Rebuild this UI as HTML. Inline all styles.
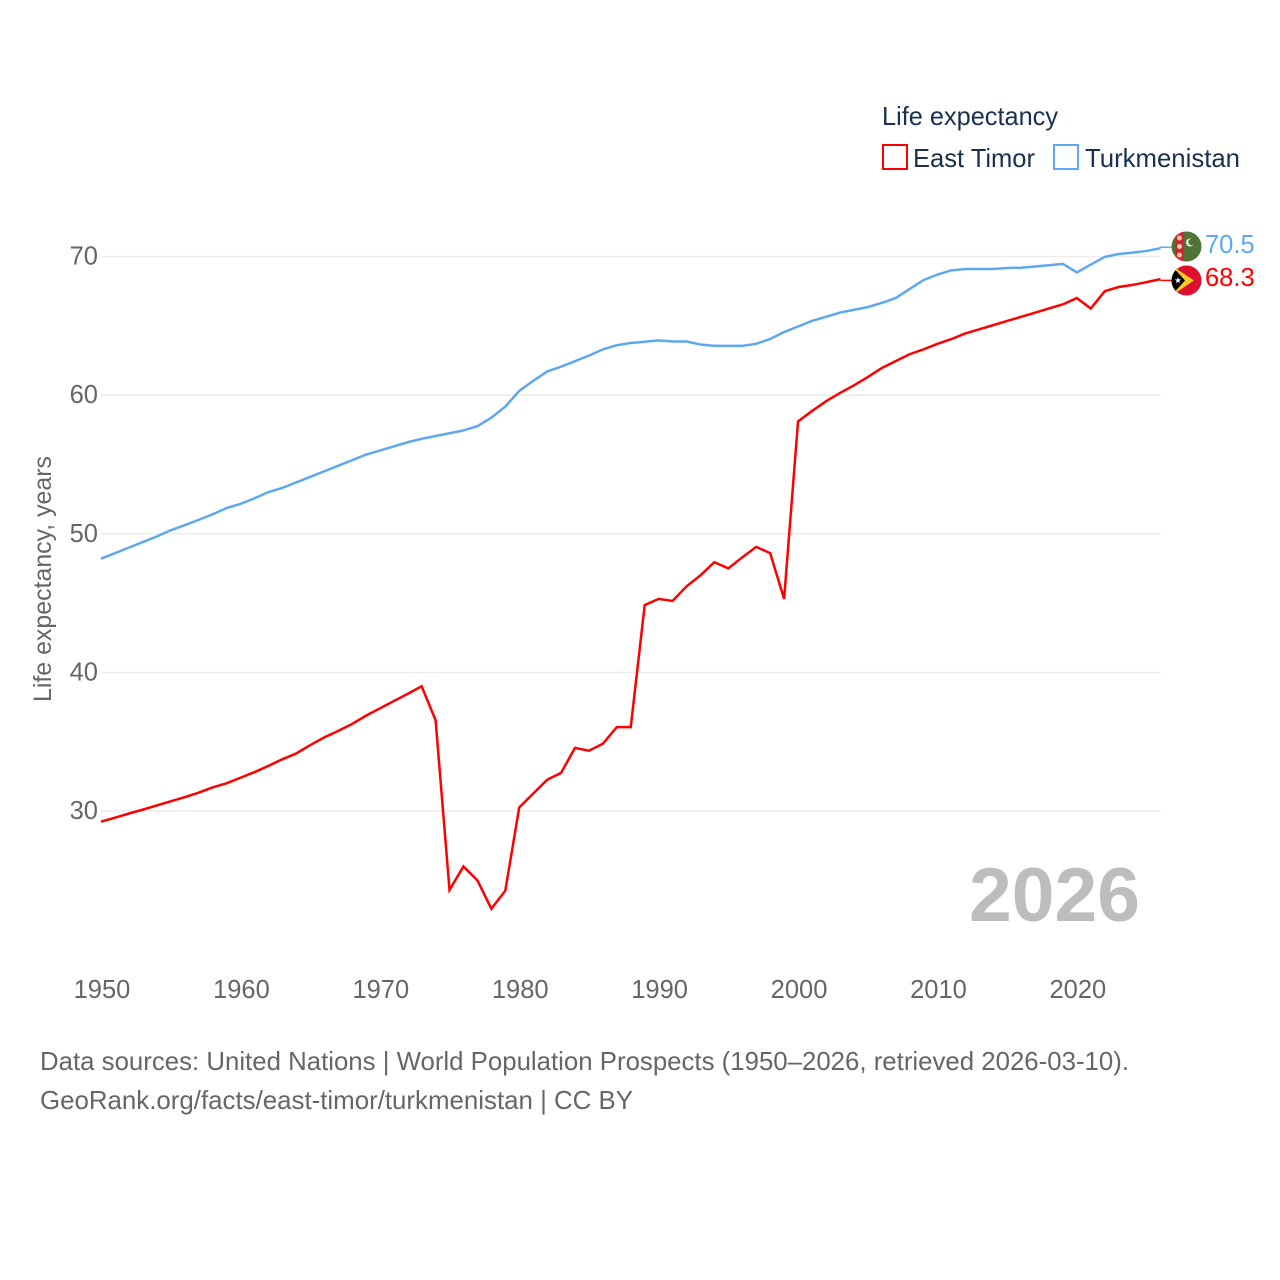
<!DOCTYPE html>
<html>
<head>
<meta charset="utf-8">
<title>Life expectancy: East Timor and Turkmenistan</title>
<style>
html,body{margin:0;padding:0;background:#fff;width:1280px;height:1280px;overflow:hidden}
svg{display:block}
text{font-family:"Liberation Sans",sans-serif}
</style>
</head>
<body>
<svg id="chart" xmlns="http://www.w3.org/2000/svg" width="1280" height="1280" viewBox="0 0 1280 1280">
  <defs>
    <clipPath id="clip-tm"><circle cx="1186.5" cy="246.5" r="15"/></clipPath>
    <clipPath id="clip-tl"><circle cx="1186.5" cy="280.5" r="15"/></clipPath>
  </defs>
  <g id="grid"></g>
  <g id="yticks"></g>
  <g id="xticks"></g>
  <text transform="translate(51,702) rotate(-90)" font-size="25" fill="#666" textLength="246" lengthAdjust="spacingAndGlyphs">Life expectancy, years</text>
  <g>
    <text x="882" y="125" font-size="26" fill="#1a3050" textLength="176" lengthAdjust="spacingAndGlyphs">Life expectancy</text>
    <rect x="883" y="145" width="24" height="24" fill="#fff" stroke="#ff0000" stroke-width="2"/>
    <text x="913" y="167" font-size="26" fill="#1a3050" textLength="122" lengthAdjust="spacingAndGlyphs">East Timor</text>
    <rect x="1054" y="145" width="24" height="24" fill="#fff" stroke="#5ea8f0" stroke-width="2"/>
    <text x="1085" y="167" font-size="26" fill="#1a3050" textLength="155" lengthAdjust="spacingAndGlyphs">Turkmenistan</text>
  </g>
  <text x="969" y="921" font-size="76" font-weight="bold" fill="#bdbdbd" textLength="171" lengthAdjust="spacingAndGlyphs">2026</text>
  <g id="series"></g>
  <g clip-path="url(#clip-tm)">
    <rect x="1171" y="231" width="31" height="31" fill="#4f7235"/>
    <rect x="1175.5" y="231" width="8" height="31" fill="#d2202f"/>
    <circle cx="1179.5" cy="238" r="2.5" fill="#f0c8a0"/>
    <circle cx="1179.5" cy="246.5" r="2.5" fill="#f0d8b0"/>
    <circle cx="1179.5" cy="255" r="2.5" fill="#f0c8a0"/>
    <circle cx="1190" cy="242.5" r="4" fill="#e8efe0"/>
    <circle cx="1191.5" cy="242" r="3.2" fill="#4f7235"/>
  </g>
  <g clip-path="url(#clip-tl)">
    <rect x="1171" y="265" width="31" height="31" fill="#dc1030"/>
    <polygon points="1171,265 1194,280.5 1171,296" fill="#ffc726"/>
    <polygon points="1171,265 1185,280.5 1171,296" fill="#000"/>
    <polygon points="1178,277 1178.8,279.4 1181.3,279.4 1179.3,280.9 1180,283.3 1178,281.8 1176,283.3 1176.7,280.9 1174.7,279.4 1177.2,279.4" fill="#fff"/>
  </g>
  <g id="value-labels"></g>
  <g>
    <text x="40" y="1070" font-size="26" fill="#666" textLength="1089" lengthAdjust="spacingAndGlyphs">Data sources: United Nations | World Population Prospects (1950–2026, retrieved 2026-03-10).</text>
    <text x="40" y="1109" font-size="26" fill="#666" textLength="593" lengthAdjust="spacingAndGlyphs">GeoRank.org/facts/east-timor/turkmenistan | CC BY</text>
  </g>
</svg>
<script>
const years = [
  1950,1951,1952,1953,1954,1955,1956,1957,1958,1959,
  1960,1961,1962,1963,1964,1965,1966,1967,1968,1969,
  1970,1971,1972,1973,1974,1975,1976,1977,1978,1979,
  1980,1981,1982,1983,1984,1985,1986,1987,1988,1989,
  1990,1991,1992,1993,1994,1995,1996,1997,1998,1999,
  2000,2001,2002,2003,2004,2005,2006,2007,2008,2009,
  2010,2011,2012,2013,2014,2015,2016,2017,2018,2019,
  2020,2021,2022,2023,2024,2025,2026
];
const eastTimor = [
  29.23,29.52,29.82,30.1,30.4,30.7,31.0,31.32,31.7,32.0,
  32.4,32.8,33.25,33.73,34.15,34.75,35.3,35.77,36.27,36.87,
  37.4,37.93,38.45,39.0,36.55,24.3,26.0,25.0,22.95,24.25,
  30.25,31.25,32.25,32.75,34.55,34.35,34.85,36.05,36.05,44.85,
  45.3,45.15,46.2,47.0,47.95,47.5,48.3,49.05,48.6,45.3,
  58.1,58.85,59.55,60.15,60.7,61.3,61.95,62.45,62.95,63.3,
  63.7,64.04,64.45,64.75,65.05,65.35,65.65,65.95,66.25,66.55,
  67.0,66.25,67.5,67.8,67.95,68.15,68.37
];
const turkmenistan = [
  48.2,48.6,49.0,49.4,49.8,50.25,50.62,51.0,51.4,51.85,
  52.15,52.55,53.0,53.3,53.7,54.1,54.5,54.9,55.3,55.7,
  56.0,56.3,56.6,56.85,57.05,57.25,57.45,57.76,58.37,59.17,
  60.3,61.03,61.7,62.05,62.45,62.85,63.3,63.6,63.76,63.85,
  63.95,63.87,63.87,63.65,63.55,63.55,63.55,63.7,64.05,64.55,
  64.95,65.35,65.65,65.95,66.15,66.35,66.65,67.0,67.65,68.3,
  68.7,69.0,69.1,69.1,69.1,69.17,69.19,69.28,69.37,69.47,
  68.85,69.42,69.97,70.18,70.28,70.4,70.6
];
const yTickValues = [30,40,50,60,70];
const xTickValues = [1950,1960,1970,1980,1990,2000,2010,2020];
const valueLabels = ['70.5','68.3'];

const NS = 'http://www.w3.org/2000/svg';
function x(year){ return 101 + (year - 1950) * (1160.5 - 101) / 76; }
function y(value){ return 811 - (value - 30) * (811 - 256.5) / 40; }
function make(tag, parent){ const el = document.createElementNS(NS, tag); parent.appendChild(el); return el; }

const gridG = document.getElementById('grid');
const yG = document.getElementById('yticks');
yTickValues.forEach(function(v){
  const line = make('line', gridG);
  
  
  line.setAttribute('x1', x(1950));
  line.setAttribute('x2', x(2026));
  line.setAttribute('y1', y(v));
  line.setAttribute('y2', y(v));
  line.setAttribute('stroke', '#ececec');
  line.setAttribute('stroke-width', '1.5');
  const t = make('text', yG);
  
  
  t.setAttribute('x', 98);
  t.setAttribute('y', y(v) + 8);
  t.setAttribute('text-anchor', 'end');
  t.setAttribute('font-size', '25.5');
  t.setAttribute('fill', '#666');
  t.textContent = v;
});

const xG = document.getElementById('xticks');
xTickValues.forEach(function(v){
  const t = make('text', xG);
  
  
  t.setAttribute('x', x(v) + 1);
  t.setAttribute('y', 998);
  t.setAttribute('text-anchor', 'middle');
  t.setAttribute('font-size', '25.5');
  t.setAttribute('fill', '#666');
  t.textContent = v;
});

function lineFor(values){
  return values.map(function(v, i){ return (i ? 'L' : 'M') + x(years[i]).toFixed(2) + ' ' + y(v).toFixed(2); }).join(' ');
}
const seriesG = document.getElementById('series');
const tmLine = make('path', seriesG);


tmLine.setAttribute('d', lineFor(turkmenistan));
tmLine.setAttribute('fill', 'none');
tmLine.setAttribute('stroke', '#5ea8f0');
tmLine.setAttribute('stroke-width', '2.5');
const tlLine = make('path', seriesG);


tlLine.setAttribute('d', lineFor(eastTimor));
tlLine.setAttribute('fill', 'none');
tlLine.setAttribute('stroke', '#ff0000');
tlLine.setAttribute('stroke-width', '2.5');

const tmLead = make('line', seriesG);


tmLead.setAttribute('x1', x(2026));
tmLead.setAttribute('x2', 1172);
tmLead.setAttribute('y1', y(turkmenistan[turkmenistan.length - 1]) - 1);
tmLead.setAttribute('y2', y(turkmenistan[turkmenistan.length - 1]) - 1);
tmLead.setAttribute('stroke', '#5ea8f0');
tmLead.setAttribute('stroke-width', '1.5');
const tlLead = make('line', seriesG);


tlLead.setAttribute('x1', x(2026));
tlLead.setAttribute('x2', 1172);
tlLead.setAttribute('y1', y(eastTimor[eastTimor.length - 1]) + 1.3);
tlLead.setAttribute('y2', y(eastTimor[eastTimor.length - 1]) + 1.3);
tlLead.setAttribute('stroke', '#ff0000');
tlLead.setAttribute('stroke-width', '1.5');

const labelsG = document.getElementById('value-labels');
const tmLabel = make('text', labelsG);


tmLabel.setAttribute('x', 1205);
tmLabel.setAttribute('y', 253);
tmLabel.setAttribute('font-size', '25.5');
tmLabel.setAttribute('fill', '#5ea8f0');
tmLabel.textContent = valueLabels[0];
const tlLabel = make('text', labelsG);


tlLabel.setAttribute('x', 1205);
tlLabel.setAttribute('y', 286);
tlLabel.setAttribute('font-size', '25.5');
tlLabel.setAttribute('fill', '#ff0000');
tlLabel.textContent = valueLabels[1];
</script>
</body>
</html>
